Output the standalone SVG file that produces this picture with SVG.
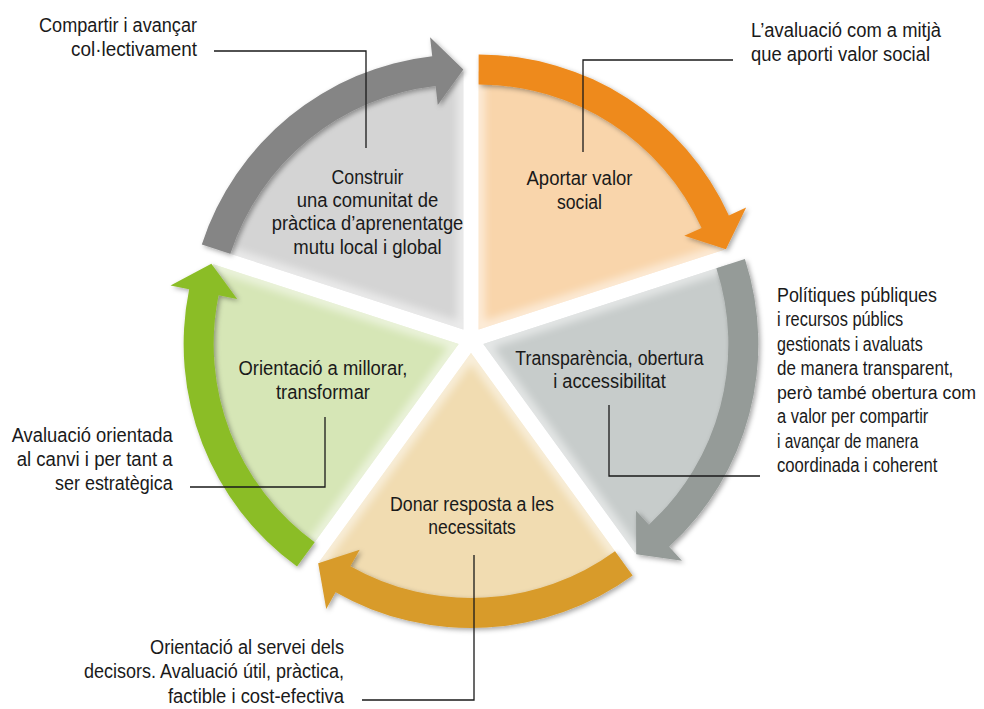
<svg xmlns="http://www.w3.org/2000/svg" width="984" height="709" viewBox="0 0 984 709">
<defs>
<filter id="sh" x="-20%" y="-20%" width="140%" height="140%">
<feDropShadow dx="2" dy="2" stdDeviation="2.5" flood-color="#000" flood-opacity="0.35"/>
</filter>
<filter id="bl" x="-10%" y="-10%" width="120%" height="120%">
<feGaussianBlur stdDeviation="4"/>
</filter>
<path id="w1" d="M463.36,329.48 L217.99,249.75 A258,258 0 0,1 463.36,71.48 Z"/>
<path id="w2" d="M478.64,329.48 L478.64,71.48 A258,258 0 0,1 724.01,249.75 Z"/>
<path id="w3" d="M483.36,344.02 L728.73,264.29 A258,258 0 0,1 635.01,552.75 Z"/>
<path id="w4" d="M471,353 L622.65,561.73 A258,258 0 0,1 319.35,561.73 Z"/>
<path id="w5" d="M458.64,344.02 L306.99,552.75 A258,258 0 0,1 213.27,264.29 Z"/>
<clipPath id="c1"><use href="#w1"/></clipPath>
<clipPath id="c2"><use href="#w2"/></clipPath>
<clipPath id="c3"><use href="#w3"/></clipPath>
<clipPath id="c4"><use href="#w4"/></clipPath>
<clipPath id="c5"><use href="#w5"/></clipPath>
<style>
text{font-family:"Liberation Sans Narrow","Liberation Sans",Arial,sans-serif;font-size:19.5px;fill:#1a1a1a;}
.m{text-anchor:middle;}
.e{text-anchor:end;}
.ld{fill:none;stroke:#1a1a1a;stroke-width:1.3;}
.arr{filter:url(#sh);}
.glow{fill:none;stroke:#ffffff;stroke-width:12;opacity:0.55;filter:url(#bl);}
.dot{font-family:"Liberation Sans",Arial,sans-serif;}
</style>
</defs>
<rect width="984" height="709" fill="#ffffff"/>

<g id="seg-construir">
<use href="#w1" fill="#d4d4d4"/>
<g clip-path="url(#c1)"><use href="#w1" class="glow"/></g>
<path class="arr" d="M201.82,244.50 A275,275 0 0,1 432.23,56.25 L430.08,37.37 L463.36,69.48 L437.78,104.93 L435.63,86.06 A245,245 0 0,0 230.35,253.77 Z" fill="#858585"/>
<text class="m" x="367.5" y="184" textLength="72" lengthAdjust="spacingAndGlyphs">Construir</text>
<text class="m" x="367.5" y="207" textLength="141.6" lengthAdjust="spacingAndGlyphs">una comunitat de</text>
<text class="m" x="367.5" y="230" textLength="191.6" lengthAdjust="spacingAndGlyphs">pràctica d’aprenentatge</text>
<text class="m" x="367.5" y="254" textLength="148.4" lengthAdjust="spacingAndGlyphs">mutu local i global</text>
</g>

<g id="seg-aportar">
<use href="#w2" fill="#f9d5ab"/>
<g clip-path="url(#c2)"><use href="#w2" class="glow"/></g>
<path class="arr" d="M478.64,54.48 A275,275 0 0,1 728.88,215.44 L746.17,207.56 L725.92,249.13 L684.29,235.76 L701.58,227.88 A245,245 0 0,0 478.64,84.48 Z" fill="#ee8a1c"/>
<text class="m" x="579.5" y="185" textLength="106" lengthAdjust="spacingAndGlyphs">Aportar valor</text>
<text class="m" x="579.5" y="209" textLength="45" lengthAdjust="spacingAndGlyphs">social</text>
</g>

<g id="seg-transparencia">
<use href="#w3" fill="#c7cccb"/>
<g clip-path="url(#c3)"><use href="#w3" class="glow"/></g>
<path class="arr" d="M744.90,259.04 A275,275 0 0,1 669.15,546.77 L681.98,560.78 L636.19,554.37 L636.04,510.65 L648.88,524.65 A245,245 0 0,0 716.37,268.31 Z" fill="#959b98"/>
<text class="m" x="609.5" y="365" textLength="188.3" lengthAdjust="spacingAndGlyphs">Transparència, obertura</text>
<text class="m" x="609.5" y="388" textLength="112.7" lengthAdjust="spacingAndGlyphs">i accessibilitat</text>
</g>

<g id="seg-donar">
<use href="#w4" fill="#f1dcb1"/>
<g clip-path="url(#c4)"><use href="#w4" class="glow"/></g>
<path class="arr" d="M632.64,575.48 A275,275 0 0,1 335.58,592.35 L326.23,608.89 L318.17,563.35 L359.71,549.70 L350.36,566.24 A245,245 0 0,0 615.01,551.21 Z" fill="#d89b2b"/>
<text class="m" x="472" y="511" textLength="164" lengthAdjust="spacingAndGlyphs">Donar resposta a les</text>
<text class="m" x="472" y="534" textLength="87.7" lengthAdjust="spacingAndGlyphs">necessitats</text>
</g>

<g id="seg-orientacio">
<use href="#w5" fill="#d6e6b6"/>
<g clip-path="url(#c5)"><use href="#w5" class="glow"/></g>
<path class="arr" d="M297.00,566.50 A275,275 0 0,1 189.16,289.19 L170.54,285.41 L211.36,263.67 L237.18,298.96 L218.56,295.17 A245,245 0 0,0 314.63,542.23 Z" fill="#8bbd25"/>
<text class="m" x="323" y="375" textLength="169" lengthAdjust="spacingAndGlyphs">Orientació a millorar,</text>
<text class="m" x="323" y="399" textLength="94" lengthAdjust="spacingAndGlyphs">transformar</text>
</g>

<g id="connectors">
<polyline class="ld" points="366,148 366,51 214,51"/>
<polyline class="ld" points="583,152 583,60 733,60"/>
<polyline class="ld" points="609,405 609,476 760,476"/>
<polyline class="ld" points="325,417 325,487 190,487"/>
<polyline class="ld" points="474,555 474,700 362,700"/>
</g>

<g id="note-compartir">
<text class="e" x="197" y="32" textLength="158" lengthAdjust="spacingAndGlyphs">Compartir i avançar</text>
<text class="e" x="197" y="56" textLength="126" lengthAdjust="spacingAndGlyphs">col<tspan class="dot">·</tspan>lectivament</text>
</g>

<g id="note-valor">
<text x="751" y="37" textLength="190" lengthAdjust="spacingAndGlyphs">L’avaluació com a mitjà</text>
<text x="751" y="61" textLength="179" lengthAdjust="spacingAndGlyphs">que aporti valor social</text>
</g>

<g id="note-politiques">
<text x="777" y="302" textLength="160" lengthAdjust="spacingAndGlyphs">Polítiques públiques</text>
<text x="777" y="326" textLength="126.3" lengthAdjust="spacingAndGlyphs">i recursos públics</text>
<text x="777" y="351" textLength="145.7" lengthAdjust="spacingAndGlyphs">gestionats i avaluats</text>
<text x="777" y="375" textLength="176.3" lengthAdjust="spacingAndGlyphs">de manera transparent,</text>
<text x="777" y="399" style="font-size:18px" textLength="199" lengthAdjust="spacingAndGlyphs">però també obertura com</text>
<text x="777" y="423" textLength="151.3" lengthAdjust="spacingAndGlyphs">a valor per compartir</text>
<text x="777" y="448" textLength="141.3" lengthAdjust="spacingAndGlyphs">i avançar de manera</text>
<text x="777" y="472" textLength="160.3" lengthAdjust="spacingAndGlyphs">coordinada i coherent</text>
</g>

<g id="note-avaluacio">
<text class="e" x="172.7" y="442" textLength="161" lengthAdjust="spacingAndGlyphs">Avaluació orientada</text>
<text class="e" x="172.7" y="466" textLength="156" lengthAdjust="spacingAndGlyphs">al canvi i per tant a</text>
<text class="e" x="172.7" y="490" textLength="117.7" lengthAdjust="spacingAndGlyphs">ser estratègica</text>
</g>

<g id="note-decisors">
<text class="e" x="344" y="654" textLength="194" lengthAdjust="spacingAndGlyphs">Orientació al servei dels</text>
<text class="e" x="344" y="678" textLength="260" lengthAdjust="spacingAndGlyphs">decisors. Avaluació útil, pràctica,</text>
<text class="e" x="344" y="703" textLength="176" lengthAdjust="spacingAndGlyphs">factible i cost-efectiva</text>
</g>
</svg>
